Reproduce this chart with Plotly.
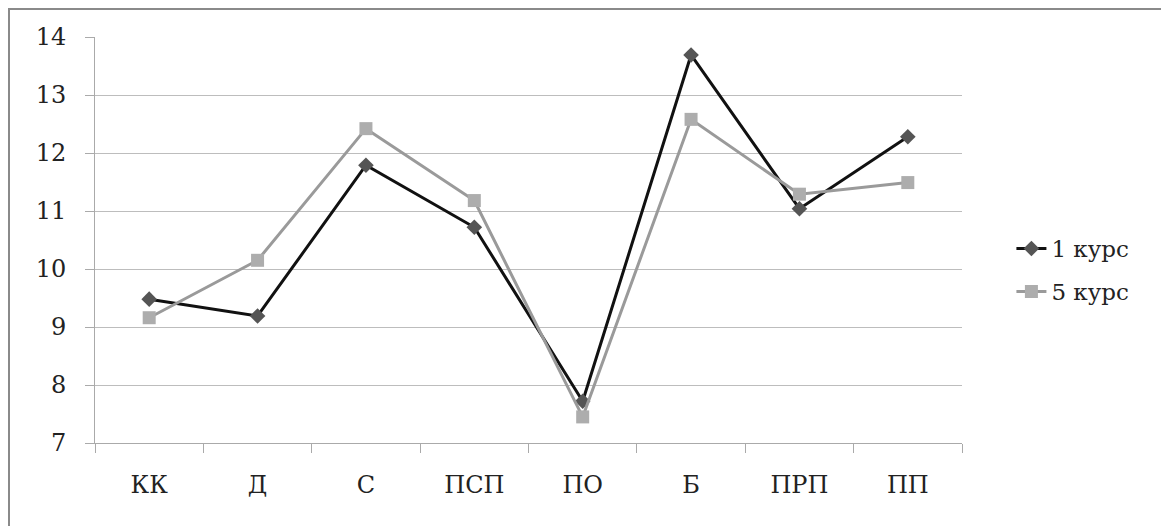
import plotly.graph_objects as go

categories = ["КК", "Д", "С", "ПСП", "ПО", "Б", "ПРП", "ПП"]
course1 = [9.48, 9.19, 11.79, 10.72, 7.72, 13.69, 11.04, 12.28]
course5 = [9.16, 10.15, 12.42, 11.18, 7.45, 12.58, 11.29, 11.49]
series_names = ["1 курс", "5 курс"]
y_ticks = [7, 8, 9, 10, 11, 12, 13, 14]

W, H = 1169, 526
# page has an 8px body margin; plot area placed to match reference
L, T = 87, 29
pw, ph = 867, 406
R = W - L - pw
B = H - T - ph

FONT = "DejaVu Serif"

fig = go.Figure()
fig.add_trace(go.Scatter(
    x=categories, y=course1, name=series_names[0], mode="lines+markers",
    legendgroup="g1",
    line=dict(color="#111111", width=3),
    marker=dict(symbol="diamond", size=12, color="#555555", line=dict(width=0)),
))
fig.add_trace(go.Scatter(
    x=categories, y=course5, name=series_names[1], mode="lines+markers",
    legendgroup="g5",
    line=dict(color="#9a9a9a", width=3),
    marker=dict(symbol="square", size=13, color="#adadad", line=dict(width=0)),
))

fig.update_layout(
    width=W, height=H,
    margin=dict(l=L, r=R, t=T, b=B),
    paper_bgcolor="white", plot_bgcolor="white",
    font=dict(family=FONT, color="#222222", size=24),
    showlegend=True,
    legend=dict(x=1.057, y=0.426, xanchor="left", yanchor="middle",
                font=dict(family=FONT, size=23, color="#222222"), tracegroupgap=10,
                bgcolor="rgba(0,0,0,0)"),
    xaxis=dict(type="category", range=[-0.5, 7.5], tickson="boundaries",
               ticks="outside", ticklen=9, tickcolor="#aaaaaa", tickwidth=1,
               showline=True, linecolor="#aaaaaa", linewidth=1,
               showgrid=False, zeroline=False, ticklabelstandoff=20,
               tickfont=dict(family=FONT, size=24)),
    yaxis=dict(range=[7, 14], tickvals=y_ticks, ticks="outside", ticklen=9,
               tickcolor="#aaaaaa", showline=True, linecolor="#aaaaaa", linewidth=1,
               showgrid=True, gridcolor="#bdbdbd", gridwidth=1.3, zeroline=False,
               ticklabelstandoff=14, tickfont=dict(family=FONT, size=24)),
)

# Outer chart border
bottom = T + ph
x0 = (1 - L) / pw
x1 = (1157 - L) / pw
y1 = (bottom - 1) / ph
y0 = (bottom - 540) / ph
fig.add_shape(type="rect", xref="paper", yref="paper", x0=x0, x1=x1, y0=y0, y1=y1,
              line=dict(color="#8a8a8a", width=2), fillcolor="rgba(0,0,0,0)", layer="below")

fig.write_html("out.html")
